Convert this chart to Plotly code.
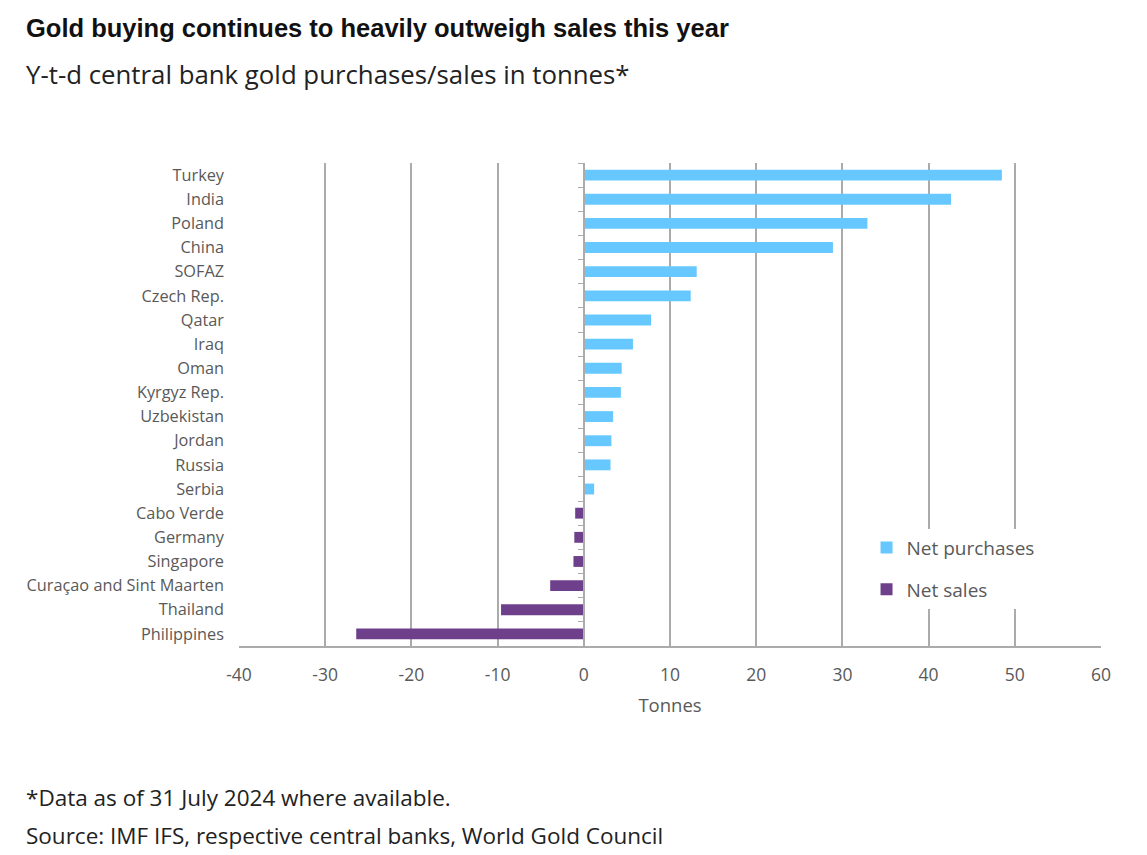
import plotly.graph_objects as go

# ---- data ----
countries = ["Turkey", "India", "Poland", "China", "SOFAZ", "Czech Rep.", "Qatar", "Iraq",
             "Oman", "Kyrgyz Rep.", "Uzbekistan", "Jordan", "Russia", "Serbia",
             "Cabo Verde", "Germany", "Singapore", "Curaçao and Sint Maarten",
             "Thailand", "Philippines"]
buyers = countries[:14]
purchases = [48.5, 42.6, 32.9, 28.9, 13.1, 12.4, 7.8, 5.7, 4.4, 4.3, 3.4, 3.2, 3.1, 1.2]
sellers = countries[14:]
sales = [-1.0, -1.1, -1.2, -3.9, -9.6, -26.4]
x_ticks = [-40, -30, -20, -10, 0, 10, 20, 30, 40, 50, 60]
x_tick_text = ["-40", "-30", "-20", "-10", "0", "10", "20", "30", "40", "50", "60"]

BLUE = "#66C8FF"
PURPLE = "#6E3F8B"
GRID = "#ABABAB"
TXT = "#595959"
FONT = "Open Sans"

L, R, T, B = 239, 46, 163, 209
W, H = 1147, 855
pw, ph = W - L - R, H - T - B

def px(x):
    return (x - L) / pw

def py(y):
    return (H - B - y) / ph

fig = go.Figure()
fig.add_trace(go.Bar(y=buyers, x=purchases, orientation="h", name="Net purchases",
                     marker=dict(color=BLUE, line=dict(width=0)),
                     legendgroup="a"))
fig.add_trace(go.Bar(y=sellers, x=sales, orientation="h", name="Net sales",
                     marker=dict(color=PURPLE, line=dict(width=0)),
                     legendgroup="b"))
# helper trace for the zero-line tick axis
fig.add_trace(go.Scatter(y=countries, x=[0] * len(countries), yaxis="y2", mode="markers",
                         marker=dict(opacity=0), showlegend=False, hoverinfo="skip"))

fig.update_layout(
    width=W, height=H,
    margin=dict(l=L, r=R, t=T, b=B),
    paper_bgcolor="white", plot_bgcolor="white",
    barmode="relative", bargap=0.55,
    font=dict(family=FONT, color=TXT),
    showlegend=True,
    legend=dict(x=0.728, y=0.243, xanchor="left", yanchor="top",
                bgcolor="white", font=dict(size=19, color=TXT, family=FONT),
                traceorder="grouped", tracegroupgap=14, itemwidth=30),
    xaxis=dict(range=[-40, 60], tickvals=x_ticks, ticktext=x_tick_text,
               showgrid=True, gridcolor=GRID, gridwidth=2,
               zeroline=False, showline=True, linecolor=GRID, linewidth=1.5,
               tickfont=dict(size=17.5, color=TXT), ticks="", ticklabelstandoff=12,
               title=dict(text="Tonnes", font=dict(size=18.5, color=TXT), standoff=14)),
    yaxis=dict(categoryorder="array", categoryarray=countries[::-1], autorange=False,
               range=[-0.5, len(countries) - 0.5],
               showgrid=False, showline=False, ticks="",
               tickfont=dict(size=16.3, color=TXT), ticklabelstandoff=14),
    yaxis2=dict(overlaying="y", anchor="free", position=0.4, side="left",
                categoryorder="array", categoryarray=countries[::-1], autorange=False,
                range=[-0.5, len(countries) - 0.5],
                showgrid=False, showline=True, linecolor=GRID, linewidth=1.5,
                ticks="outside", tickson="boundaries", ticklen=5, tickcolor=GRID,
                showticklabels=False),
)

fig.add_annotation(text="<b>Gold buying continues to heavily outweigh sales this year</b>",
                   xref="paper", yref="paper", x=px(24), y=py(28), xanchor="left", yanchor="middle",
                   showarrow=False, font=dict(family="Liberation Sans, Arial", size=25.5, color="#111111"))
fig.add_annotation(text="Y-t-d central bank gold purchases/sales in tonnes*",
                   xref="paper", yref="paper", x=px(24), y=py(74), xanchor="left", yanchor="middle",
                   showarrow=False, font=dict(family=FONT, size=25.8, color="#222222"))
fig.add_annotation(text="*Data as of 31 July 2024 where available.",
                   xref="paper", yref="paper", x=px(24), y=py(797), xanchor="left", yanchor="middle",
                   showarrow=False, font=dict(family=FONT, size=22.5, color="#222222"))
fig.add_annotation(text="Source: IMF IFS, respective central banks, World Gold Council",
                   xref="paper", yref="paper", x=px(24), y=py(835), xanchor="left", yanchor="middle",
                   showarrow=False, font=dict(family=FONT, size=22.5, color="#222222"))

fig.write_html("out.html")
